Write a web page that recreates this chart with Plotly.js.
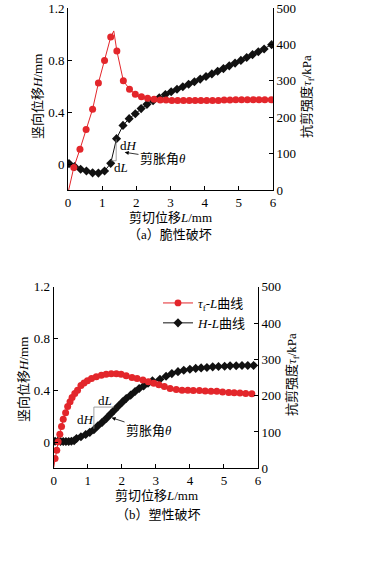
<!DOCTYPE html>
<html>
<head>
<meta charset="utf-8">
<script src="https://cdn.plot.ly/plotly-3.0.1.min.js"></script>
<style>html,body{margin:0;padding:0;background:#fff;}#chart{width:370px;height:568px;}</style>
</head>
<body>
<div id="chart"></div>
<script>
// ---------- (a) brittle failure ----------
const aTauL = [0.02, 0.17, 0.35, 0.53, 0.72, 0.89, 1.07, 1.25, 1.34, 1.43, 1.62, 1.80, 1.97, 2.15, 2.33, 2.52, 2.70, 2.87, 3.04, 3.21, 3.38, 3.55, 3.72, 3.89, 4.06, 4.23, 4.40, 4.57, 4.74, 4.91, 5.08, 5.25, 5.42, 5.59, 5.76, 5.95];
const aTau  = [0, 62, 112, 166, 222, 294, 356, 420, 437, 382, 300, 277, 263, 256, 252, 249, 247, 247, 246, 246, 246, 246, 246, 246, 246, 246, 246, 247, 247, 248, 248, 248, 248, 248, 248, 248];
const aTauMarker = [0, 1, 1, 1, 1, 1, 1, 1, 0, 1, 1, 1, 1, 1, 1, 1, 1, 1, 1, 1, 1, 1, 1, 1, 1, 1, 1, 1, 1, 1, 1, 1, 1, 1, 1, 1];
const aHL = [0.03, 0.19, 0.37, 0.54, 0.72, 0.89, 1.07, 1.25, 1.42, 1.61, 1.79, 1.97, 2.14, 2.31, 2.49, 2.67, 2.85, 3.02, 3.19, 3.36, 3.53, 3.70, 3.87, 4.04, 4.21, 4.38, 4.55, 4.72, 4.89, 5.06, 5.23, 5.40, 5.57, 5.74, 5.96];
const aH  = [0.003, -0.02, -0.04, -0.054, -0.068, -0.07, -0.054, 0.005, 0.195, 0.297, 0.349, 0.387, 0.426, 0.459, 0.487, 0.51, 0.535, 0.556, 0.575, 0.594, 0.613, 0.633, 0.653, 0.673, 0.693, 0.713, 0.734, 0.755, 0.776, 0.797, 0.819, 0.841, 0.863, 0.885, 0.918];

// ---------- (b) plastic failure ----------
const bTauL = [0.0, 0.04, 0.09, 0.13, 0.18, 0.23, 0.28, 0.35, 0.41, 0.48, 0.54, 0.62, 0.70, 0.80, 0.89, 0.99, 1.11, 1.25, 1.40, 1.54, 1.69, 1.84, 1.98, 2.13, 2.30, 2.45, 2.62, 2.78, 2.94, 3.09, 3.25, 3.42, 3.60, 3.77, 3.94, 4.10, 4.28, 4.45, 4.62, 4.79, 4.96, 5.14, 5.30, 5.47, 5.64, 5.82];
const bTau  = [2, 27, 50, 73, 94, 115, 135, 153, 170, 183, 195, 206, 215, 228, 235, 241, 247, 252, 256, 259, 260, 260, 259, 255, 250, 247, 243, 238, 234, 230, 225, 220, 217, 215, 215, 214, 214, 213, 212, 212, 210, 209, 208, 207, 206, 205];
const bTauMarker = bTauL.map((v, i) => i === 0 ? 0 : 1);
const bHL = [0.04, 0.12, 0.20, 0.28, 0.36, 0.44, 0.52, 0.60, 0.67, 0.80, 0.94, 1.06, 1.18, 1.30, 1.42, 1.55, 1.67, 1.78, 1.90, 2.02, 2.13, 2.26, 2.39, 2.51, 2.64, 2.77, 2.90, 3.12, 3.30, 3.47, 3.65, 3.82, 4.00, 4.17, 4.33, 4.50, 4.67, 4.84, 5.02, 5.18, 5.36, 5.53, 5.70, 5.87];
const bH  = [0.008, 0.008, 0.007, 0.007, 0.007, 0.007, 0.008, 0.012, 0.03, 0.043, 0.06, 0.077, 0.097, 0.128, 0.154, 0.185, 0.218, 0.248, 0.28, 0.312, 0.338, 0.364, 0.392, 0.415, 0.435, 0.456, 0.474, 0.487, 0.51, 0.53, 0.545, 0.556, 0.564, 0.57, 0.574, 0.577, 0.582, 0.585, 0.587, 0.59, 0.591, 0.592, 0.593, 0.593];

// ---------- tick labels ----------
const xTicks = [0, 1, 2, 3, 4, 5, 6];
const hTicks = [0, 0.4, 0.8, 1.2];
const hTickText = ['0', '0.4', '0.8', '1.2'];
const tauTicks = [0, 100, 200, 300, 400, 500];

const FONT = '"Liberation Serif", "Times New Roman", "Noto Sans CJK SC", serif';
const RED = '#e3262b';
const BLACK = '#111111';
const MS = 7;

function tauTrace(x, y, mk, xa, ya, show) {
  return {x: x, y: y, xaxis: xa, yaxis: ya, type: 'scatter', mode: 'lines+markers',
    name: '<i>τ</i><sub>f</sub>-<i>L</i>曲线', showlegend: show,
    line: {color: RED, width: 1},
    marker: {symbol: 'circle', color: RED, opacity: 1, size: mk.map(m => m * MS), line: {width: 0}}};
}
function hTrace(x, y, xa, ya, show) {
  return {x: x, y: y, xaxis: xa, yaxis: ya, type: 'scatter', mode: 'lines+markers',
    name: '<i>H</i>-<i>L</i>曲线', showlegend: show,
    line: {color: BLACK, width: 1},
    marker: {symbol: 'diamond', color: BLACK, opacity: 1, size: MS, line: {width: 0}}};
}

const data = [
  tauTrace(aTauL, aTau, aTauMarker, 'x', 'y2', false),
  hTrace(aHL, aH, 'x', 'y', false),
  tauTrace(bTauL, bTau, bTauMarker, 'x2', 'y4', true),
  hTrace(bHL, bH, 'x2', 'y3', true)
];

const axBase = {showline: true, linecolor: '#000', linewidth: 1, ticks: 'inside', ticklen: 4,
  tickcolor: '#000', showgrid: false, zeroline: false, tickfont: {family: FONT, size: 13, color: '#000'}};
function xa(domain, anchor) {
  return Object.assign({}, axBase, {domain: domain, anchor: anchor, range: [0, 6], tickvals: xTicks});
}
function ya(domain, anchor) {
  return Object.assign({}, axBase, {domain: domain, anchor: anchor, range: [-0.2, 1.2], tickvals: hTicks, ticktext: hTickText});
}
function yr(over, anchor) {
  return Object.assign({}, axBase, {overlaying: over, anchor: anchor, side: 'right', range: [0, 500], tickvals: tauTicks});
}

const annFont = {family: FONT, size: 13, color: '#000'};
function pt(text, px, py, angle) {
  return {xref: 'paper', yref: 'paper', x: px / 370, y: 1 - py / 568, xanchor: 'center', yanchor: 'middle',
    text: text, showarrow: false, font: annFont, textangle: angle || 0};
}
const xTitle = '剪切位移<i>L</i>/mm';
const hTitle = '竖向位移<i>H</i>/mm';
const tauTitle = '抗剪强度<i>τ</i><sub>f</sub>/kPa';

const layout = {
  width: 370, height: 568,
  margin: {l: 0, r: 0, t: 0, b: 0},
  paper_bgcolor: '#fff', plot_bgcolor: '#fff',
  font: {family: FONT, size: 13, color: '#000'},
  xaxis: xa([68 / 370, 273 / 370], 'y'),
  yaxis: ya([1 - 190 / 568, 1 - 8 / 568], 'x'),
  yaxis2: yr('y', 'x'),
  xaxis2: xa([53.7 / 370, 258 / 370], 'y3'),
  yaxis3: ya([1 - 468.3 / 568, 1 - 286.7 / 568], 'x2'),
  yaxis4: yr('y3', 'x2'),
  showlegend: true,
  legend: {x: 158 / 370, y: 1 - 288 / 568, xanchor: 'left', yanchor: 'top', bgcolor: 'rgba(0,0,0,0)',
    font: {family: FONT, size: 13, color: '#000'}, itemwidth: 30, tracegroupgap: 0},
  shapes: [
    {type: 'line', xref: 'x', yref: 'y', x0: 1.41, x1: 1.41, y0: 0.025, y1: 0.19, line: {color: '#888', width: 0.8}},
    {type: 'line', xref: 'x', yref: 'y', x0: 1.27, x1: 1.41, y0: 0.025, y1: 0.025, line: {color: '#888', width: 0.8}},
    {type: 'line', xref: 'x2', yref: 'y3', x0: 1.18, x1: 1.18, y0: 0.105, y1: 0.272, line: {color: '#888', width: 0.8}},
    {type: 'line', xref: 'x2', yref: 'y3', x0: 1.18, x1: 1.77, y0: 0.272, y1: 0.272, line: {color: '#888', width: 0.8}}
  ],
  annotations: [
    {xref: 'x', yref: 'y', x: 1.76, y: 0.14, text: 'd<i>H</i>', showarrow: false, font: annFont},
    {xref: 'x', yref: 'y', x: 1.56, y: -0.03, text: 'd<i>L</i>', showarrow: false, font: annFont},
    {xref: 'x', yref: 'y', x: 1.66, y: 0.09, ax: 2.78, ay: 0.045, axref: 'x', ayref: 'y', text: '剪胀角<i>θ</i>',
      showarrow: true, arrowhead: 2, arrowsize: 1, arrowwidth: 0.8, arrowcolor: '#000', standoff: 0, font: annFont},
    {xref: 'x2', yref: 'y3', x: 1.5, y: 0.32, text: 'd<i>L</i>', showarrow: false, font: annFont},
    {xref: 'x2', yref: 'y3', x: 0.92, y: 0.18, text: 'd<i>H</i>', showarrow: false, font: annFont},
    {xref: 'x2', yref: 'y3', x: 1.7, y: 0.19, ax: 2.8, ay: 0.095, axref: 'x2', ayref: 'y3', text: '剪胀角<i>θ</i>',
      showarrow: true, arrowhead: 2, arrowsize: 1, arrowwidth: 0.8, arrowcolor: '#000', standoff: 0, font: annFont},
    pt(xTitle, 170.5, 217),
    pt(hTitle, 37, 97, -90),
    pt(tauTitle, 307, 97, -90),
    pt('（a）脆性破坏', 170, 234),
    pt(xTitle, 156, 495),
    pt(hTitle, 23, 380, -90),
    pt(tauTitle, 292, 375, -90),
    pt('（b）塑性破坏', 158, 514)
  ]
};

Plotly.newPlot('chart', data, layout, {displayModeBar: false, staticPlot: true});
</script>
</body>
</html>
